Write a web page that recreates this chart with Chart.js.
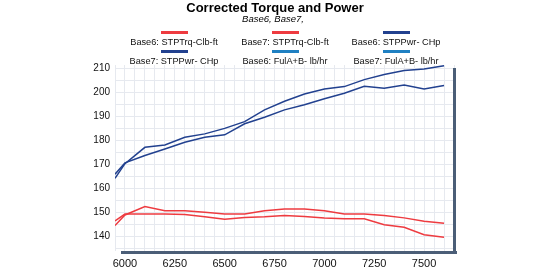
<!DOCTYPE html>
<html>
<head>
<meta charset="utf-8">
<script src="https://cdn.jsdelivr.net/npm/chart.js@4"></script>
<style>
  html, body { margin: 0; padding: 0; background: #ffffff; }
  #wrap { width: 540px; height: 270px; }
</style>
</head>
<body>
<div id="wrap"><canvas id="torque_chart" width="540" height="270"></canvas></div>
<script>
// rpm points
let rpm = [5950, 6000, 6100, 6200, 6300, 6400, 6500, 6600, 6700, 6800, 6900, 7000, 7100, 7200, 7300, 7400, 7500, 7600];

let base6Trq = [144.6, 149.0, 152.5, 150.8, 150.8, 150.1, 149.4, 149.4, 150.8, 151.5, 151.5, 150.8, 149.4, 149.4, 148.8, 147.8, 146.4, 145.6];
let base7Trq = [146.5, 149.4, 149.4, 149.4, 149.2, 148.3, 147.2, 148.0, 148.3, 148.8, 148.4, 147.8, 147.4, 147.4, 144.9, 143.9, 140.8, 139.7];
let base6Pwr = [166.0, 170.7, 173.8, 176.5, 179.3, 181.4, 182.4, 187.0, 189.7, 192.8, 194.9, 197.4, 199.7, 202.6, 201.8, 203.2, 201.5, 203.0];
let base7Pwr = [164.3, 170.4, 177.2, 178.2, 181.4, 182.8, 185.1, 187.9, 192.8, 196.4, 199.4, 201.5, 202.5, 205.4, 207.5, 209.2, 209.8, 211.2];
// fuel flow series are listed in the legend but not drawn on this chart
let base6Ful = [];
let base7Ful = [];

let xLabels = [6000, 6250, 6500, 6750, 7000, 7250, 7500];
let yLabels = [140, 150, 160, 170, 180, 190, 200, 210];

let titleText = 'Corrected Torque and Power';
let subtitleText = 'Base6, Base7,';

const RED = '#ee3b40';
const DARK_BLUE = '#22418f';
const LIGHT_BLUE = '#1f80c2';

function toPoints(values) {
    return values.map(function (v, i) { return { x: rpm[i], y: v }; });
}

//=======================================================//
// title + two-row legend (colour bar above the text) + shadow frame
const decorPlugin = {
    id: 'decor',
    afterDraw(chart) {
        let ctx = chart.ctx;
        let area = chart.chartArea;
        ctx.save();

        // frame bars on bottom and right
        ctx.fillStyle = '#4b5e77';
        ctx.fillRect(area.left + 6, area.bottom, area.right - area.left - 3, 3);
        ctx.fillRect(area.right - 1, area.top + 3, 3, area.bottom - area.top);

        ctx.fillStyle = '#000000';
        ctx.textAlign = 'center';
        ctx.textBaseline = 'middle';
        ctx.font = 'bold 13px "Liberation Sans", Arial, sans-serif';
        ctx.fillText(titleText, 275, 8);
        ctx.font = 'italic 9.5px "Liberation Sans", Arial, sans-serif';
        ctx.fillText(subtitleText, 273, 19);

        let cols = [174, 285, 396];
        let rows = [{ bar: 31, text: 42 }, { bar: 50, text: 61 }];
        ctx.font = '9.2px "Liberation Sans", Arial, sans-serif';
        chart.data.datasets.forEach(function (ds, i) {
            let cx = cols[i % 3];
            let r = rows[Math.floor(i / 3)];
            ctx.fillStyle = ds.borderColor;
            ctx.fillRect(cx - 13, r.bar, 27, 3);
            ctx.fillStyle = '#111111';
            ctx.fillText(ds.label, cx, r.text);
        });
        ctx.restore();
    }
};

let ctx = document.getElementById('torque_chart').getContext('2d');

let data = {
    datasets: [
        { label: 'Base6: STPTrq-Clb-ft', data: toPoints(base6Trq), borderColor: RED },
        { label: 'Base7: STPTrq-Clb-ft', data: toPoints(base7Trq), borderColor: RED },
        { label: 'Base6: STPPwr- CHp', data: toPoints(base6Pwr), borderColor: DARK_BLUE },
        { label: 'Base7: STPPwr- CHp', data: toPoints(base7Pwr), borderColor: DARK_BLUE },
        { label: 'Base6: FulA+B- lb/hr', data: toPoints(base6Ful), borderColor: LIGHT_BLUE },
        { label: 'Base7: FulA+B- lb/hr', data: toPoints(base7Ful), borderColor: LIGHT_BLUE }
    ]
};

new Chart(ctx, {
    type: 'line',
    data: data,
    options: {
        responsive: false,
        animation: false,
        layout: { padding: { top: 65, right: 86, left: 0, bottom: 0 } },
        elements: {
            line: { borderWidth: 1.5, tension: 0, fill: false },
            point: { radius: 0 }
        },
        scales: {
            x: {
                type: 'linear',
                min: 5950,
                max: 7650,
                afterBuildTicks: function (scale) {
                    let t = [];
                    for (let v = 5950; v <= 7650; v += 50) t.push({ value: v });
                    scale.ticks = t;
                },
                afterFit: function (scale) { scale.height = 19; },
                border: { display: false },
                grid: { color: '#e6e9ef', drawTicks: false },
                ticks: {
                    autoSkip: false,
                    maxRotation: 0,
                    padding: 6,
                    color: '#111111',
                    font: { size: 11, family: '"Liberation Sans", Arial, sans-serif' },
                    callback: function (v) { return xLabels.indexOf(v) >= 0 ? String(v) : ''; }
                }
            },
            y: {
                min: 134,
                max: 211.5,
                afterBuildTicks: function (scale) {
                    let t = [];
                    for (let v = 135; v <= 210; v += 5) t.push({ value: v });
                    scale.ticks = t;
                },
                afterFit: function (scale) { scale.width = 115; },
                border: { display: false },
                grid: { color: '#e6e9ef', drawTicks: false },
                ticks: {
                    autoSkip: false,
                    padding: 5,
                    color: '#111111',
                    font: { size: 10, family: '"Liberation Sans", Arial, sans-serif' },
                    callback: function (v) { return yLabels.indexOf(v) >= 0 ? String(v) : ''; }
                }
            }
        },
        plugins: {
            legend: { display: false },
            title: { display: false },
            tooltip: { enabled: false }
        }
    },
    plugins: [decorPlugin]
});
</script>
</body>
</html>
